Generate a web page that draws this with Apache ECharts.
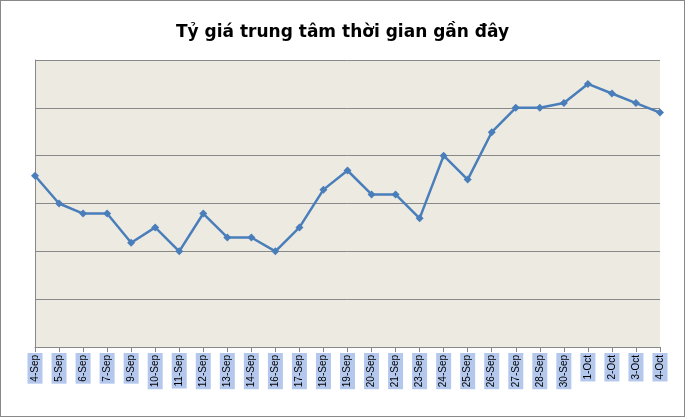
<!DOCTYPE html>
<html><head><meta charset="utf-8">
<script src="https://cdn.jsdelivr.net/npm/echarts@6/dist/echarts.min.js"></script>
<style>html,body{margin:0;padding:0;background:#fff}#c{width:683px;height:415px;border:1px solid #888}</style>
</head><body><div id="c"></div>
<script>
var categories = ['4-Sep','5-Sep','6-Sep','7-Sep','9-Sep','10-Sep','11-Sep','12-Sep','13-Sep','14-Sep','16-Sep','17-Sep','18-Sep','19-Sep','20-Sep','21-Sep','23-Sep','24-Sep','25-Sep','26-Sep','27-Sep','28-Sep','30-Sep','1-Oct','2-Oct','3-Oct','4-Oct'];
var rates = [3.58,3.0,2.79,2.79,2.18,2.5,2.0,2.79,2.29,2.29,2.0,2.5,3.29,3.69,3.19,3.19,2.69,4.0,3.5,4.49,5.0,5.0,5.1,5.5,5.3,5.1,4.9];
var chart = echarts.init(document.getElementById('c'));
chart.setOption({
  animation: false,
  title: {text: 'Tỷ giá trung tâm thời gian gần đây', left: 'center', top: 18,
    textStyle: {fontFamily: 'DejaVu Sans', fontSize: 17, fontWeight: 'bold', color: '#000'}},
  grid: {left: 34, right: 24, top: 59, bottom: 69, backgroundColor: '#edebe1', show: true, borderWidth: 0},
  xAxis: {type: 'category', data: categories, boundaryGap: false,
    axisLine: {lineStyle: {color: '#888'}},
    axisTick: {show: true, length: 5, lineStyle: {color: '#888'}},
    axisLabel: {rotate: 90, interval: 0, color: '#000', fontFamily: 'Liberation Sans', fontSize: 10,
      margin: 6, backgroundColor: '#b4c8ee', padding: [3, 2, 2, 2]}},
  yAxis: {type: 'value', min: 0, max: 6, interval: 1,
    axisLabel: {show: false}, axisTick: {show: false},
    axisLine: {show: true, lineStyle: {color: '#888'}},
    splitLine: {lineStyle: {color: '#888', width: 1}}},
  series: [{type: 'line', data: rates, symbol: 'diamond', symbolSize: 8,
    lineStyle: {color: '#4a7ebb', width: 2.5}, itemStyle: {color: '#4a7ebb'}}]
});
</script></body></html>
